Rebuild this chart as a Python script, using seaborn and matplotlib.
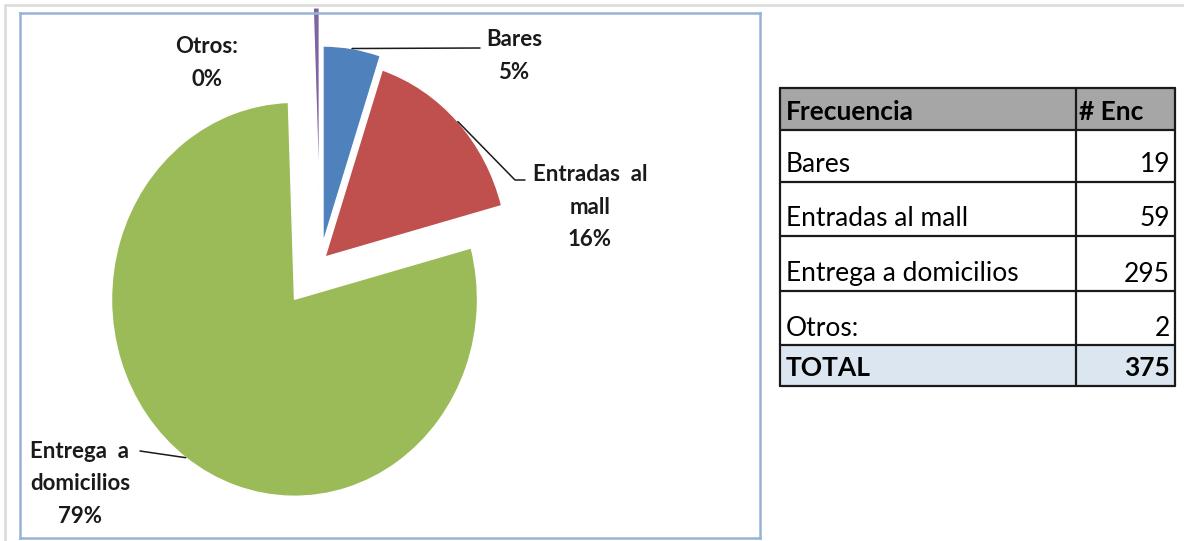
import numpy as np
import matplotlib
matplotlib.use('Agg')
import matplotlib.pyplot as plt
import seaborn as sns
from matplotlib.patches import Rectangle
from matplotlib.lines import Line2D

# Data
categories = ['Bares', 'Entradas al mall', 'Entrega a domicilios', 'Otros:']
counts = [19, 59, 295, 2]
pie_labels = ['Bares', 'Entradas  al\nmall', 'Entrega  a\ndomicilios', 'Otros:']
pct_labels = ['5%', '16%', '79%', '0%']   # as printed on the chart
total_label = 'TOTAL'

# Style
colors = ['#4F81BD', '#C0504D', '#9BBB59', '#8064A2']
explode = [0.097, 0.036, 0.236, 0.29]

sns.set_theme(style='white')
plt.rcParams['font.family'] = ['Lato', 'DejaVu Sans']

W, H = 1184, 541
fig = plt.figure(figsize=(W / 100, H / 100), dpi=100)


def fig_rect(x0, y0, x1, y1):
    return [x0 / W, 1 - y1 / H, (x1 - x0) / W, (y1 - y0) / H]


# outer grey frame of the screenshot
fig.add_artist(Line2D([5 / W, 1], [1 - 4.5 / H, 1 - 4.5 / H], color='#dedede', lw=2))
fig.add_artist(Line2D([5 / W, 5 / W], [0, 1 - 4.5 / H], color='#dedede', lw=2))

# Pie chart area (pixel scale: 183 px per unit in x, 197 in y)
SX, SY = 183.0, 197.0
CX, CY = 320.2, 261.9
ax = fig.add_axes(fig_rect(20, 13, 760, 538))
wedges, _ = ax.pie(counts, colors=colors, startangle=90, counterclock=False,
                   explode=explode, wedgeprops=dict(edgecolor='white', linewidth=1))
ax.set_aspect('auto')
ax.set_xlim((20 - CX) / SX, (760 - CX) / SX)
ax.set_ylim((CY - 538) / SY, (CY - 13) / SY)
ax.set_frame_on(True)
for s in ax.spines.values():
    s.set_visible(True)
    s.set_color('#95b3d7')
    s.set_linewidth(1.8)


def px2d(px, py):
    return ((px - CX) / SX, (CY - py) / SY)


def arc_mid(w):
    t = np.deg2rad((w.theta1 + w.theta2) / 2)
    return (w.center[0] + w.r * np.cos(t), w.center[1] + w.r * np.sin(t))


total = sum(counts)

# label centre positions and leader end points (pixels)
label_pos = [(514, 56), (590, 207), (80, 484), (207, 63)]
leader_pts = [[(480, 48)], [(515, 180), (525, 180)], [(140, 451)], []]

for w, lab, pct, (lx, ly), pts in zip(wedges, pie_labels, pct_labels, label_pos, leader_pts):
    x, y = px2d(lx, ly)
    ax.text(x, y, f"{lab}\n{pct}", ha='center', va='center', multialignment='center',
            fontsize=16, fontweight='bold', color='#1a1a1a', linespacing=1.7)
    if pts:
        xs = [arc_mid(w)[0]] + [px2d(*p)[0] for p in pts]
        ys = [arc_mid(w)[1]] + [px2d(*p)[1] for p in pts]
        ax.plot(xs, ys, color='#1a1a1a', lw=1.1)

# Table
tax = fig.add_axes(fig_rect(778, 86, 1177, 388))
tax.set_xlim(778, 1177)
tax.set_ylim(388, 86)
tax.axis('off')

row_edges = [88, 130, 182, 236, 291, 345, 386]
x_left, x_mid, x_right = 780, 1076, 1175

tax.add_patch(Rectangle((x_left, row_edges[0]), x_right - x_left, row_edges[1] - row_edges[0],
                        facecolor='#a6a6a6', edgecolor='none'))
tax.add_patch(Rectangle((x_left, row_edges[-2]), x_right - x_left, row_edges[-1] - row_edges[-2],
                        facecolor='#dce6f1', edgecolor='none'))
for yv in row_edges:
    tax.plot([x_left, x_right], [yv, yv], color='#1a1a1a', lw=1.6)
for xv in [x_left, x_mid, x_right]:
    tax.plot([xv, xv], [row_edges[0], row_edges[-1]], color='#1a1a1a', lw=1.6)

rows_txt = [('Frecuencia', '# Enc', True)] + \
           [(c, str(v), False) for c, v in zip(categories, counts)] + \
           [(total_label, str(total), True)]
for i, (a, b, bold) in enumerate(rows_txt):
    base = row_edges[i + 1] - 9.5
    fw = 'bold' if bold else 'normal'
    tax.text(x_left + 6, base, a, ha='left', va='baseline', fontsize=19, fontweight=fw, color='black')
    if i == 0:
        tax.text(x_mid + 3, base, b, ha='left', va='baseline', fontsize=19, fontweight=fw, color='black')
    else:
        tax.text(x_right - 5, base, b, ha='right', va='baseline', fontsize=19, fontweight=fw, color='black')

fig.savefig('out.png', dpi=100)
